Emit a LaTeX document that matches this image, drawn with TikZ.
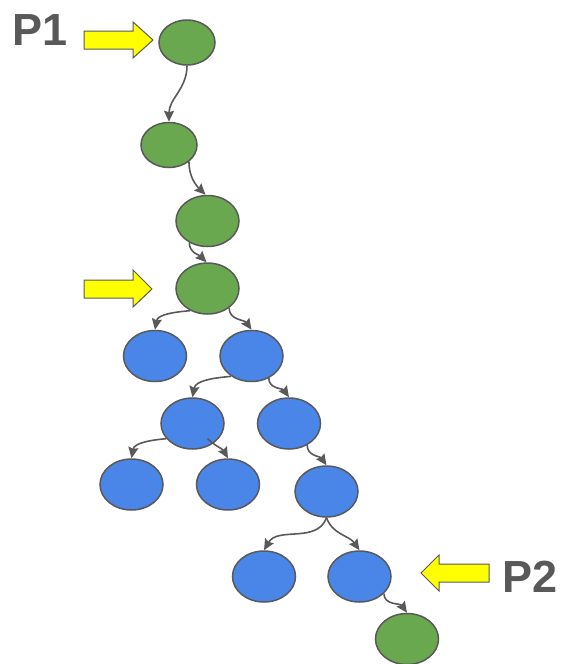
\documentclass[tikz,border=0pt]{standalone}
\usepackage{fontspec}
\setmainfont{Liberation Sans}
\usetikzlibrary{shapes.geometric,arrows.meta}
\definecolor{leafgreen}{HTML}{6AA84F}
\definecolor{treeblue}{HTML}{4A86E8}
\definecolor{inkgray}{HTML}{595959}
\definecolor{markyellow}{HTML}{FFFF00}
\tikzset{
  vert/.style={ellipse, draw=inkgray, line width=1.5pt, inner sep=0pt,
               minimum width=63pt, minimum height=51pt},
  smallvert/.style={vert, minimum width=56pt, minimum height=45pt},
  gnode/.style={fill=leafgreen},
  bnode/.style={fill=treeblue},
  link/.style={draw=inkgray, line width=1.6pt,
               -{Stealth[length=11pt,width=10pt,inset=1.5pt]}},
  pointer/.style={draw=inkgray, line width=1pt, fill=markyellow, line join=miter},
  tag/.style={font=\bfseries\fontsize{45}{45}\selectfont, text=inkgray, inner sep=0pt}
}
\begin{document}
\begin{tikzpicture}[x=1pt, y=-1pt]
\useasboundingbox (0,0) rectangle (561,664);

% path of green vertices and the blue subtree
\node[smallvert, gnode] (g1) at (187,42.5) {};
\node[smallvert, gnode] (g2) at (169,145) {};
\node[vert, gnode] (g3) at (207.5,221) {};
\node[vert, gnode] (g4) at (207.5,288.5) {};
\node[vert, bnode] (b1) at (155,356) {};
\node[vert, bnode] (b2) at (251.5,356) {};
\node[vert, bnode] (b3) at (192.5,423.5) {};
\node[vert, bnode] (b4) at (289,423.5) {};
\node[vert, bnode] (b5) at (131.5,484.5) {};
\node[vert, bnode] (b6) at (228,484.5) {};
\node[vert, bnode] (b7) at (326.5,491.5) {};
\node[vert, bnode] (b8) at (264,576.5) {};
\node[vert, bnode] (b9) at (359.5,576.5) {};
\node[vert, gnode] (g5) at (407,639) {};

% curved parent-to-child links
\draw[link] (g1.south) to[out=-90, in=90] (g2.north);
\draw[link] (g2.-40) to[out=-90, in=135] ([xshift=-2pt]g3.north);
\draw[link] (g3.-130) to[out=-90, in=135] ([xshift=-1pt]g4.north);
\draw[link] (g4.-128) to[out=185, in=80] (b1.north);
\draw[link] (g4.-42) to[out=-90, in=125] (b2.north);
\draw[link] (b2.-135) to[out=185, in=80] (b3.north);
\draw[link] (b2.-52) to[out=-90, in=125] (b4.north);
\draw[link] (b3.-150) to[out=185, in=80] (b5.north);
\draw[link] ([xshift=15pt,yshift=-15pt]b3.center) to[out=-45, in=120] (b6.north);
\draw[link] (b4.-50) to[out=-90, in=125] (b7.north);
\draw[link] (b7.south) to[out=-110, in=60] (b8.north);
\draw[link] (b7.south) to[out=-70, in=125] (b9.north);
\draw[link] (b9.-35) to[out=-90, in=125] (g5.north);

% yellow pointers
\draw[pointer] (84,31) -- (133,31) -- (133,22) -- (153,40) -- (133,58) -- (133,49) -- (84,49) -- cycle;
\draw[pointer] (84,280) -- (133,280) -- (133,270) -- (152,289) -- (133,307) -- (133,298) -- (84,298) -- cycle;
\draw[pointer] (489,564) -- (439,564) -- (439,555) -- (421,573) -- (439,591) -- (439,582) -- (489,582) -- cycle;

% labels
\node[tag] (p1) at (40,30.5) {P1};
\node[tag] (p2) at (530,577) {P2};
\end{tikzpicture}
\end{document}
